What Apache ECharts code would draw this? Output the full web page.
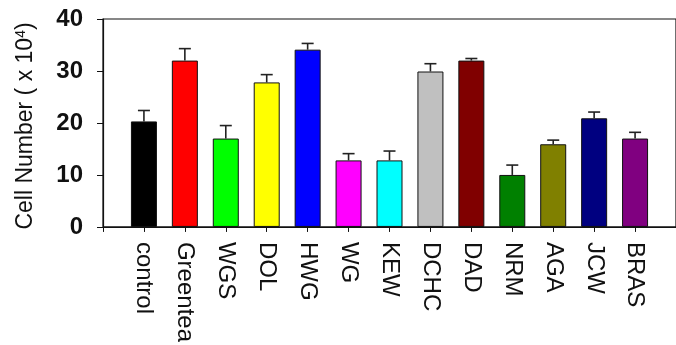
<!DOCTYPE html>
<html>
<head>
<meta charset="utf-8">
<script src="https://cdn.jsdelivr.net/npm/echarts@6/dist/echarts.min.js"></script>
<style>html,body{margin:0;padding:0;background:#fff;}#c{width:676px;height:345px;}</style>
</head>
<body>
<div id="c"></div>
<script>
var categories = ['control','Greentea','WGS','DOL','HWG','WG','KEW','DCHC','DAD','NRM','AGA','JCW','BRAS'];
var values = [20.3, 32.0, 17.0, 27.8, 34.1, 12.8, 12.8, 29.9, 32.0, 10.0, 15.9, 20.9, 17.0];
var errors = [2.1, 2.3, 2.5, 1.5, 1.2, 1.3, 1.8, 1.5, 0.4, 1.9, 0.8, 1.2, 1.2];
var colors = ['#000000','#ff0000','#00ff00','#ffff00','#0000ff','#ff00ff','#00ffff','#c0c0c0','#800000','#008000','#808000','#000080','#800080'];
var yTicks = [0, 10, 20, 30, 40];

var padCats = [''].concat(categories).concat(['']);
var barData = [null].concat(values.map(function (v, i) {
  return { value: v, itemStyle: { color: colors[i] } };
})).concat([null]);
var errData = categories.map(function (c, i) { return [i + 1, values[i], values[i] + errors[i]]; });

var chart = echarts.init(document.getElementById('c'), null, { renderer: 'canvas' });
chart.setOption({
  animation: false,
  grid: { left: 103, top: 19, width: 583, bottom: 117, show: true, borderColor: '#111', borderWidth: 1.2, containLabel: false },
  xAxis: {
    type: 'category',
    data: padCats,
    boundaryGap: false,
    axisLine: { lineStyle: { color: '#111', width: 1.2 } },
    axisTick: { show: true, length: 5, lineStyle: { color: '#111' } },
    axisLabel: { rotate: -90, margin: 15, fontSize: 24, color: '#111', fontFamily: 'Liberation Sans, Arial, sans-serif', interval: 0 },
    splitLine: { show: false }
  },
  yAxis: {
    type: 'value',
    min: yTicks[0], max: yTicks[yTicks.length - 1], interval: 10,
    axisLine: { show: true, lineStyle: { color: '#111', width: 1.2 } },
    axisTick: { show: true, length: 6, lineStyle: { color: '#111' } },
    axisLabel: { margin: 20, fontSize: 24, fontWeight: 'bold', color: '#111', fontFamily: 'Liberation Sans, Arial, sans-serif' },
    splitLine: { show: false }
  },
  graphic: [{
    type: 'text',
    x: 26, y: 126,
    rotation: Math.PI / 2,
    style: {
      text: '{a|Cell Number ( x 10}{s|4}{a|)}',
      align: 'center', verticalAlign: 'middle',
      rich: {
        a: { fontSize: 23, fill: '#111', fontFamily: 'Liberation Sans, Arial, sans-serif' },
        s: { fontSize: 14, fill: '#111', fontFamily: 'Liberation Sans, Arial, sans-serif', verticalAlign: 'top', padding: [0, 0, 10, 0] }
      }
    }
  }],
  series: [{
    type: 'bar',
    data: barData,
    barWidth: 26,
    itemStyle: { borderColor: '#111', borderWidth: 1 },
    z: 2
  }, {
    type: 'custom',
    data: errData,
    z: 3,
    renderItem: function (params, api) {
      var x = api.value(0);
      var p0 = api.coord([x, api.value(1)]);
      var p1 = api.coord([x, api.value(2)]);
      var hw = 6;
      return {
        type: 'group',
        children: [
          { type: 'line', shape: { x1: p0[0], y1: p0[1], x2: p1[0], y2: p1[1] }, style: { stroke: '#222', lineWidth: 1.6 } },
          { type: 'line', shape: { x1: p1[0] - hw, y1: p1[1], x2: p1[0] + hw, y2: p1[1] }, style: { stroke: '#222', lineWidth: 1.6 } }
        ]
      };
    }
  }]
});
</script>
</body>
</html>
